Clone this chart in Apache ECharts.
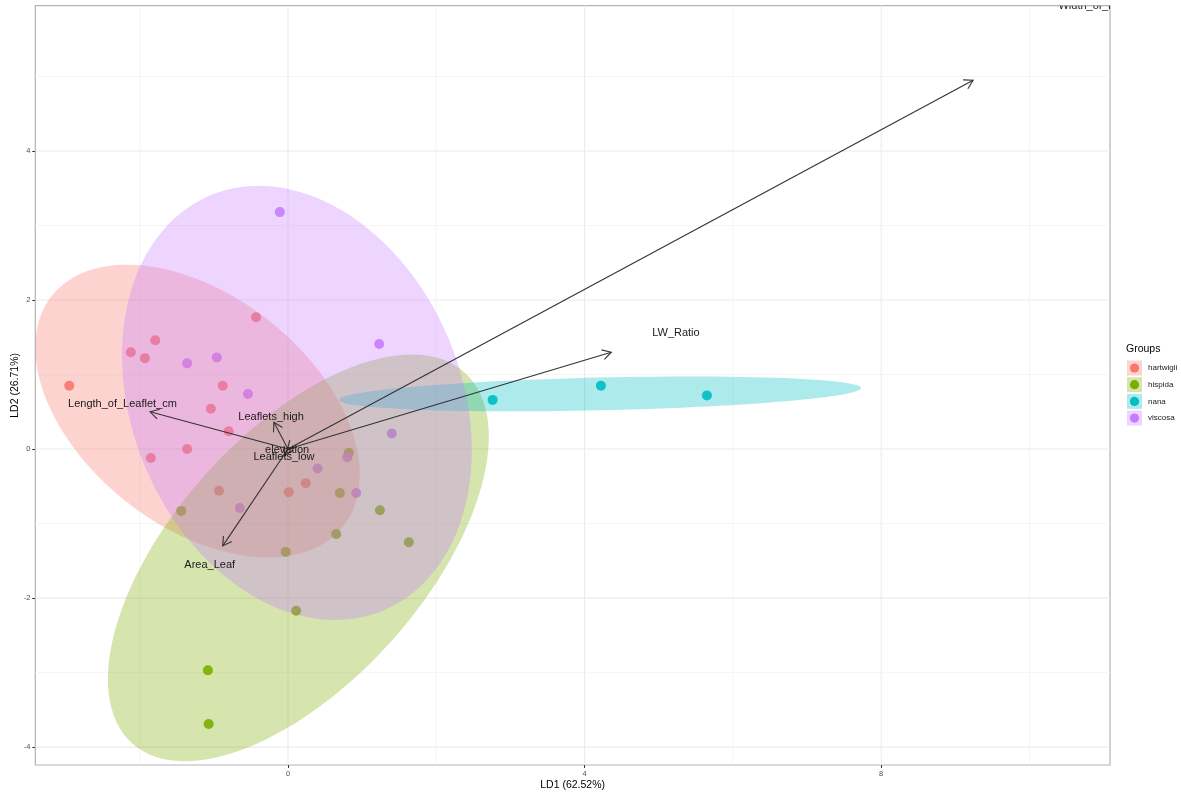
<!DOCTYPE html>
<html>
<head>
<meta charset="utf-8">
<script src="https://cdn.jsdelivr.net/npm/echarts@6/dist/echarts.min.js"></script>
<style>
  html, body { margin: 0; padding: 0; background: #ffffff; }
  #chart { width: 1181px; height: 792px; }
</style>
</head>
<body>
<div id="chart"></div>
<script>
// Groups and their colours
const groups = ['hartwigii', 'hispida', 'nana', 'viscosa'];
const groupColors = ['#F8766D', '#7CAE00', '#00BFC4', '#C77CFF'];

// LDA scores (LD1, LD2) per group
const hartwigiiLD1 = [-2.95, -2.12, -1.93, -1.79, -0.43, -0.88, -1.04, -0.80, -1.36, -1.85, -0.93, 0.01, 0.24];
const hartwigiiLD2 = [0.85, 1.30, 1.22, 1.46, 1.77, 0.85, 0.54, 0.24, 0.00, -0.12, -0.56, -0.58, -0.46];
const hispidaLD1 = [-1.08, -1.07, 0.11, -0.03, -1.44, 0.70, 1.24, 1.63, 0.65, 0.82];
const hispidaLD2 = [-2.97, -3.69, -2.17, -1.38, -0.83, -0.59, -0.82, -1.25, -1.14, -0.05];
const nanaLD1 = [2.76, 4.22, 5.65];
const nanaLD2 = [0.66, 0.85, 0.72];
const viscosaLD1 = [-0.11, 1.23, -1.36, -0.96, -0.54, 1.40, 0.80, 0.40, 0.92, -0.65];
const viscosaLD2 = [3.18, 1.41, 1.15, 1.23, 0.74, 0.21, -0.11, -0.26, -0.59, -0.79];

// 95% group ellipses: centre, semi-axes and rotation (degrees), in group order
const ellipseCenterLD1 = [-1.22, 0.14, 4.21, 0.12];
const ellipseCenterLD2 = [0.51, -1.46, 0.74, 0.62];
const ellipseMajor = [2.50, 3.35, 3.52, 3.02];
const ellipseMinor = [1.55, 1.68, 0.22, 2.22];
const ellipseAngleDeg = [-38.0, 47.9, 1.3, -67.1];

// Variable loadings drawn as arrows from the origin
const loadingNames = ['Width_of_Leaflet_cm', 'LW_Ratio', 'Length_of_Leaflet_cm', 'Leaflets_high', 'Area_Leaf', 'elevation', 'Leaflets_low'];
const loadingLD1 = [9.24, 4.36, -1.86, -0.19, -0.88, -0.01, -0.045];
const loadingLD2 = [4.95, 1.30, 0.50, 0.36, -1.30, -0.01, -0.09];
const labelScale = 1.2;

// Axis ticks and grid lines
const xTicks = [0, 4, 8];
const xMinorGrid = [-2, 2, 6, 10];
const yTicks = [-4, -2, 0, 2, 4];
const yMinorGrid = [-3, -1, 1, 3, 5];

const scoreLD1 = [hartwigiiLD1, hispidaLD1, nanaLD1, viscosaLD1];
const scoreLD2 = [hartwigiiLD2, hispidaLD2, nanaLD2, viscosaLD2];

const FONT = '"Liberation Sans", Arial, Helvetica, sans-serif';
const FILL_ALPHA = 0.32;

function hexToRgba(hex, a) {
  const n = parseInt(hex.slice(1), 16);
  return 'rgba(' + ((n >> 16) & 255) + ',' + ((n >> 8) & 255) + ',' + (n & 255) + ',' + a + ')';
}

const chart = echarts.init(document.getElementById('chart'), null, { renderer: 'canvas' });

const gridData = []
  .concat(xTicks.map(v => [v, 0, 1]))
  .concat(xMinorGrid.map(v => [v, 0, 0]))
  .concat(yTicks.map(v => [v, 1, 1]))
  .concat(yMinorGrid.map(v => [v, 1, 0]));

const series = [];

// panel grid lines
series.push({
  type: 'custom',
  silent: true,
  z: 1,
  data: gridData,
  encode: { x: -1, y: -1 },
  renderItem: function (params, api) {
    const cs = params.coordSys;
    const v = api.value(0), orient = api.value(1), major = api.value(2);
    let shape;
    if (orient === 0) {
      const p = api.coord([v, 0]);
      shape = { x1: p[0], y1: cs.y, x2: p[0], y2: cs.y + cs.height };
    } else {
      const p = api.coord([0, v]);
      shape = { x1: cs.x, y1: p[1], x2: cs.x + cs.width, y2: p[1] };
    }
    return {
      type: 'line',
      shape: shape,
      style: { stroke: major ? '#ebebeb' : '#f3f3f3', lineWidth: major ? 1.1 : 0.8 }
    };
  }
});

// group points
groups.forEach(function (g, i) {
  series.push({
    name: g,
    type: 'scatter',
    z: 2,
    symbol: 'circle',
    symbolSize: 10,
    itemStyle: { color: groupColors[i], opacity: 0.9 },
    data: scoreLD1[i].map((x, k) => [x, scoreLD2[i][k]])
  });
});

// group ellipses
series.push({
  type: 'custom',
  silent: true,
  z: 3,
  data: groups.map((g, i) => [i]),
  encode: { x: -1, y: -1 },
  renderItem: function (params, api) {
    const i = api.value(0);
    const cx = ellipseCenterLD1[i], cy = ellipseCenterLD2[i];
    const a = ellipseMajor[i], b = ellipseMinor[i];
    const t = ellipseAngleDeg[i] * Math.PI / 180;
    const pts = [];
    const N = 120;
    for (let k = 0; k < N; k++) {
      const s = 2 * Math.PI * k / N;
      const ex = a * Math.cos(s), ey = b * Math.sin(s);
      pts.push(api.coord([cx + ex * Math.cos(t) - ey * Math.sin(t), cy + ex * Math.sin(t) + ey * Math.cos(t)]));
    }
    return {
      type: 'polygon',
      shape: { points: pts },
      style: { fill: hexToRgba(groupColors[i], FILL_ALPHA), stroke: null }
    };
  }
});

// loading arrows
series.push({
  type: 'custom',
  silent: true,
  z: 4,
  data: loadingNames.map((n, i) => [loadingLD1[i], loadingLD2[i]]),
  encode: { x: -1, y: -1 },
  renderItem: function (params, api) {
    const o = api.coord([0, 0]);
    const e = api.coord([api.value(0), api.value(1)]);
    const ang = Math.atan2(e[1] - o[1], e[0] - o[0]);
    const hl = 10, ha = Math.PI / 6;
    const h1 = [e[0] - hl * Math.cos(ang - ha), e[1] - hl * Math.sin(ang - ha)];
    const h2 = [e[0] - hl * Math.cos(ang + ha), e[1] - hl * Math.sin(ang + ha)];
    const st = { stroke: '#333333', lineWidth: 1.1, fill: null };
    return {
      type: 'group',
      children: [
        { type: 'line', shape: { x1: o[0], y1: o[1], x2: e[0], y2: e[1] }, style: st },
        { type: 'polyline', shape: { points: [h1, e, h2] }, style: st }
      ]
    };
  }
});

// loading labels
series.push({
  type: 'custom',
  silent: true,
  z: 5,
  data: loadingNames.map((n, i) => [loadingLD1[i] * labelScale, loadingLD2[i] * labelScale, i]),
  encode: { x: -1, y: -1 },
  renderItem: function (params, api) {
    const cs = params.coordSys;
    const p = api.coord([api.value(0), api.value(1)]);
    const name = loadingNames[api.value(2)];
    return {
      type: 'group',
      clipPath: { type: 'rect', shape: { x: cs.x, y: cs.y, width: cs.width, height: cs.height } },
      children: [{
        type: 'text',
        x: p[0],
        y: p[1],
        style: {
          text: name,
          fill: '#1a1a1a',
          font: '11px ' + FONT,
          align: 'center',
          verticalAlign: 'middle'
        }
      }]
    };
  }
});

// legend
const legendGraphics = [{
  type: 'text',
  left: 1126,
  top: 344,
  style: { text: 'Groups', fill: '#000000', font: '10.5px ' + FONT }
}];
groups.forEach(function (g, i) {
  const cyRow = 368 + i * 16.7;
  legendGraphics.push({
    type: 'rect',
    shape: { x: 1127, y: cyRow - 7.5, width: 15, height: 15 },
    style: { fill: hexToRgba(groupColors[i], FILL_ALPHA) }
  });
  legendGraphics.push({
    type: 'circle',
    shape: { cx: 1134.5, cy: cyRow, r: 4.6 },
    style: { fill: groupColors[i] }
  });
  legendGraphics.push({
    type: 'text',
    x: 1148,
    y: cyRow,
    style: { text: g, fill: '#1a1a1a', font: '8px ' + FONT, verticalAlign: 'middle', align: 'left' }
  });
});

chart.setOption({
  animation: false,
  backgroundColor: '#ffffff',
  grid: {
    left: 35.3,
    right: 71,
    top: 5.7,
    bottom: 27,
    containLabel: false,
    outerBoundsMode: 'none',
    show: true,
    borderColor: '#b3b3b3',
    borderWidth: 1.2,
    backgroundColor: 'transparent'
  },
  xAxis: {
    type: 'value',
    min: -3.408,
    max: 11.086,
    splitLine: { show: false },
    axisLine: { show: false, onZero: false },
    axisTick: { show: true, customValues: xTicks, length: 3, lineStyle: { color: '#333333', width: 1 } },
    axisLabel: { customValues: xTicks, fontSize: 7.5, color: '#4d4d4d', margin: 5, fontFamily: FONT },
    name: 'LD1 (62.52%)',
    nameLocation: 'middle',
    nameMoveOverlap: false,
    nameGap: 15,
    nameTextStyle: { fontSize: 10.5, color: '#000000', fontFamily: FONT }
  },
  yAxis: {
    type: 'value',
    min: -4.24,
    max: 5.95,
    splitLine: { show: false },
    axisLine: { show: false, onZero: false },
    axisTick: { show: true, customValues: yTicks, length: 3, lineStyle: { color: '#333333', width: 1 } },
    axisLabel: { customValues: yTicks, fontSize: 7.5, color: '#4d4d4d', margin: 5, fontFamily: FONT },
    name: 'LD2 (26.71%)',
    nameLocation: 'middle',
    nameMoveOverlap: false,
    nameGap: 15,
    nameTextStyle: { fontSize: 10.5, color: '#000000', fontFamily: FONT }
  },
  graphic: legendGraphics,
  series: series
});
</script>
</body>
</html>
